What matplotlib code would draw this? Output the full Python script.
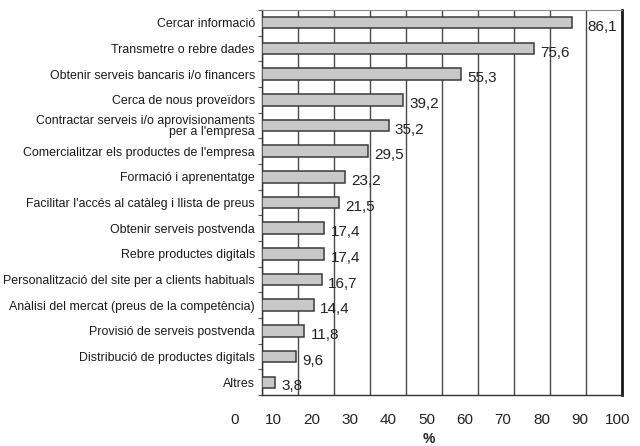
import numpy as np
import matplotlib
matplotlib.use('Agg')
import matplotlib.pyplot as plt
from matplotlib.transforms import blended_transform_factory

categories = [
    "Cercar informació",
    "Transmetre o rebre dades",
    "Obtenir serveis bancaris i/o financers",
    "Cerca de nous proveïdors",
    "Contractar serveis i/o aprovisionaments\nper a l'empresa",
    "Comercialitzar els productes de l'empresa",
    "Formació i aprenentatge",
    "Facilitar l'accés al catàleg i llista de preus",
    "Obtenir serveis postvenda",
    "Rebre productes digitals",
    "Personalització del site per a clients habituals",
    "Anàlisi del mercat (preus de la competència)",
    "Provisió de serveis postvenda",
    "Distribució de productes digitals",
    "Altres",
]
values = [86.1, 75.6, 55.3, 39.2, 35.2, 29.5, 23.2, 21.5, 17.4, 17.4,
          16.7, 14.4, 11.8, 9.6, 3.8]
tick_labels = ["0", "10", "20", "30", "40", "50", "60", "70", "80", "90", "100"]

plain = ['Liberation Sans', 'DejaVu Sans']

fig = plt.figure(figsize=(6.4, 4.46), dpi=100)
ax = fig.add_axes([0.409, 0.114, 0.563, 0.864])

n = len(categories)
ypos = np.arange(n)
ax.barh(ypos, values, height=0.45, color='#c8c8c8', edgecolor='#3a3a3a',
        linewidth=1.1, zorder=3)

for y, v in zip(ypos, values):
    dx = 11 if v > 80 else 4.5
    ax.annotate(f"{v:.1f}".replace('.', ','), (v, y), xytext=(dx, -3),
                textcoords='offset points', ha='left', va='center',
                fontsize=11, family=plain, color='#222222', zorder=4)

ax.set_xlim(0, 100)
ax.set_ylim(n - 0.5, -0.5)

# vertical grid at every 10 units
ax.set_xticks(np.arange(0, 101, 10))
ax.tick_params(axis='x', length=0, labelbottom=False)
ax.grid(axis='x', color='#4a4a4a', linewidth=1.0, zorder=1)

# category labels, with small outward ticks between the rows
ax.set_yticks(ypos)
ax.set_yticklabels(categories, family=plain, fontsize=8.9,
                   linespacing=0.95, color='#1a1a1a')
ax.tick_params(axis='y', length=0, pad=5)
ax.set_yticks(np.arange(n + 1) - 0.5, minor=True)
ax.tick_params(axis='y', which='minor', length=3, width=0.8,
               color='#555555', direction='out')

for side in ['left', 'bottom']:
    ax.spines[side].set_color('#333333')
    ax.spines[side].set_linewidth(1.0)
ax.spines['top'].set_color('#888888')
ax.spines['top'].set_linewidth(0.8)
ax.spines['right'].set_color('#1a1a1a')
ax.spines['right'].set_linewidth(2.0)

# x labels sit on a slightly wider spacing than the grid
trans = blended_transform_factory(ax.transData, ax.transAxes)
label_x = -7.5 + 10.64 * np.arange(len(tick_labels))
for x, lab in zip(label_x, tick_labels):
    ax.text(x, -0.064, lab, transform=trans, ha='center', va='center',
            fontsize=11, family=plain, color='#222222', clip_on=False)
ax.text(46.5, -0.115, "%", transform=trans, ha='center', va='center',
        fontsize=10, fontweight='bold', family=plain, color='#222222',
        clip_on=False)

fig.savefig('out.png', dpi=100)
